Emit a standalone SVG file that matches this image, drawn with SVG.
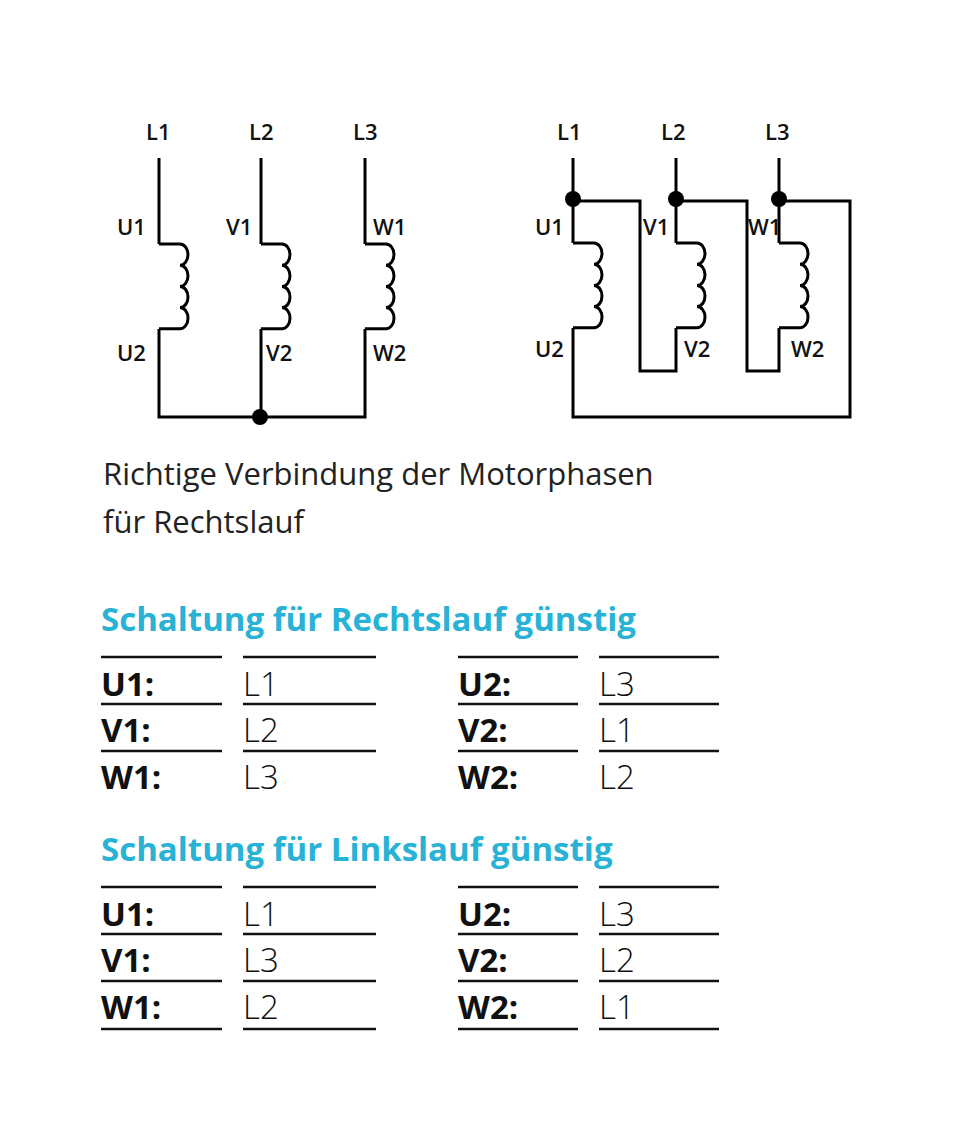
<svg xmlns="http://www.w3.org/2000/svg" width="965" height="1125" viewBox="0 0 965 1125">
<style>
.w{fill:none;stroke:#000;stroke-width:3}
.lb{font-family:"Open Sans","Liberation Sans",sans-serif;font-weight:600;font-size:22px;fill:#111}
.cap{font-family:"Open Sans","Liberation Sans",sans-serif;font-size:31px;fill:#222}
.hd{font-family:"Open Sans","Liberation Sans",sans-serif;font-weight:700;font-size:33px;fill:#27b2d6}
.k{font-family:"Open Sans","Liberation Sans",sans-serif;font-weight:700;font-size:33px;fill:#111}
.v{font-family:"Open Sans","Liberation Sans",sans-serif;font-weight:300;font-size:33px;fill:#111}
.r{stroke:#111;stroke-width:2.5}
</style>
<defs>
<path id="coil" d="M0,0 h21 a8,10.6 0 0 1 0,21.2 a8,10.6 0 0 1 0,21.2 a8,10.6 0 0 1 0,21.2 a8,10.6 0 0 1 0,21.2 h-21" class="w"/>
</defs>
<g id="star">
<g id="connectors-star">
<path class="w" d="M159,158 V244 M159,329 V417 H365 V329 M261,158 V244 M261,329 V417 M365,158 V244"/>
</g>
<use href="#coil" x="159" y="244"/><use href="#coil" x="261" y="244"/><use href="#coil" x="365" y="244"/>
<circle cx="260" cy="417" r="8"/>
<g class="lb"><text x="146" y="140">L1</text><text x="249" y="140">L2</text><text x="353" y="140">L3</text>
<text x="117" y="235">U1</text><text x="226" y="235">V1</text><text x="373" y="235">W1</text>
<text x="117" y="361">U2</text><text x="266" y="361">V2</text><text x="373" y="361">W2</text></g>
</g>
<g id="delta">
<g id="connectors-delta">
<path class="w" d="M573,158 V243 M573,328 V417 H850 V201 H779 M573,201 H640 V371 H676 V328 M676,158 V243 M676,201 H747 V371 H779 V328 M779,158 V243"/>
</g>
<use href="#coil" x="573" y="243"/><use href="#coil" x="676" y="243"/><use href="#coil" x="779" y="243"/>
<circle cx="573" cy="199" r="8"/><circle cx="676" cy="199" r="8"/><circle cx="779" cy="199" r="8"/>
<g class="lb"><text x="557" y="140">L1</text><text x="661" y="140">L2</text><text x="765" y="140">L3</text>
<text x="535" y="235">U1</text><text x="643" y="235">V1</text><text x="748" y="235">W1</text>
<text x="535" y="357">U2</text><text x="684" y="357">V2</text><text x="791" y="357">W2</text></g>
</g>
<text class="cap" x="103" y="485">Richtige Verbindung der Motorphasen</text>
<text class="cap" x="103" y="533">für Rechtslauf</text>
<text class="hd" x="101" y="631">Schaltung für Rechtslauf günstig</text>
<g id="table1">
<path class="r" d="M101,657H222M243,657H376M458,657H578M599,657H719M101,704H222M243,704H376M458,704H578M599,704H719M101,751H222M243,751H376M458,751H578M599,751H719"/>
<text class="k" x="101" y="696">U1:</text><text class="v" x="243" y="696">L1</text><text class="k" x="458" y="696">U2:</text><text class="v" x="599" y="696">L3</text>
<text class="k" x="101" y="742">V1:</text><text class="v" x="243" y="742">L2</text><text class="k" x="458" y="742">V2:</text><text class="v" x="599" y="742">L1</text>
<text class="k" x="101" y="789">W1:</text><text class="v" x="243" y="789">L3</text><text class="k" x="458" y="789">W2:</text><text class="v" x="599" y="789">L2</text>
</g>
<text class="hd" x="101" y="861">Schaltung für Linkslauf günstig</text>
<g id="table2">
<path class="r" d="M101,887H222M243,887H376M458,887H578M599,887H719M101,934H222M243,934H376M458,934H578M599,934H719M101,981H222M243,981H376M458,981H578M599,981H719M101,1029H222M243,1029H376M458,1029H578M599,1029H719"/>
<text class="k" x="101" y="926">U1:</text><text class="v" x="243" y="926">L1</text><text class="k" x="458" y="926">U2:</text><text class="v" x="599" y="926">L3</text>
<text class="k" x="101" y="972">V1:</text><text class="v" x="243" y="972">L3</text><text class="k" x="458" y="972">V2:</text><text class="v" x="599" y="972">L2</text>
<text class="k" x="101" y="1019">W1:</text><text class="v" x="243" y="1019">L2</text><text class="k" x="458" y="1019">W2:</text><text class="v" x="599" y="1019">L1</text>
</g>
</svg>
